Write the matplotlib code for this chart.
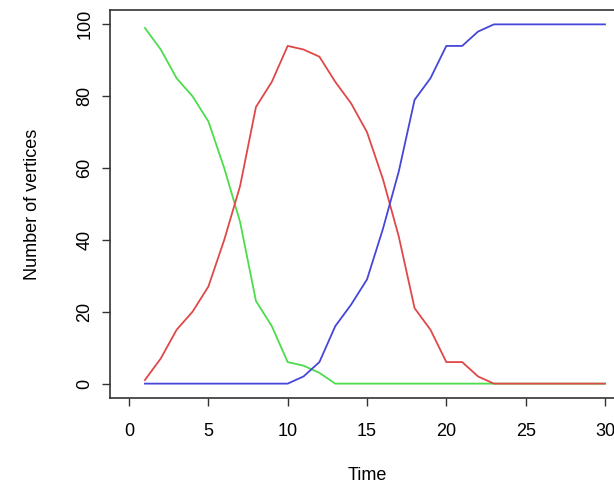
import matplotlib
matplotlib.use("Agg")
import matplotlib.pyplot as plt

# Epidemic simulation on a 100-vertex graph: susceptible / infected / recovered counts
time = list(range(1, 31))
susceptible = [99, 93, 85, 80, 73, 60, 45, 23, 16, 6, 5, 3, 0, 0, 0,
               0, 0, 0, 0, 0, 0, 0, 0, 0, 0, 0, 0, 0, 0, 0]
infected = [1, 7, 15, 20, 27, 40, 55, 77, 84, 94, 93, 91, 84, 78, 70,
            57, 41, 21, 15, 6, 6, 2, 0, 0, 0, 0, 0, 0, 0, 0]
recovered = [0, 0, 0, 0, 0, 0, 0, 0, 0, 0, 2, 6, 16, 22, 29,
             43, 59, 79, 85, 94, 94, 98, 100, 100, 100, 100, 100, 100, 100, 100]

x_ticks = [0, 5, 10, 15, 20, 25, 30]
y_ticks = [0, 20, 40, 60, 80, 100]

plt.rcParams["font.family"] = ["Liberation Sans", "DejaVu Sans"]

fig = plt.figure(figsize=(6.14, 4.86), dpi=100)
W, H = 614, 486
left, right, top, bottom = 110, 624, 10, 398
ax = fig.add_axes([left / W, 1 - bottom / H, (right - left) / W, (bottom - top) / H])

ax.plot(time, susceptible, color="#4cdc4c", lw=1.3)
ax.plot(time, infected, color="#e04848", lw=1.3)
ax.plot(time, recovered, color="#4646d8", lw=1.3)

ax.set_xlim(-1.2, 31.2)
ax.set_ylim(-4, 104)
ax.set_xticks(x_ticks)
ax.set_yticks(y_ticks)
ax.set_yticklabels([str(v) for v in y_ticks], rotation=90, va="center")

for s in ax.spines.values():
    s.set_color("#333333")
    s.set_linewidth(1.2)
ax.tick_params(direction="out", length=6, width=1, color="#333333", labelsize=13)
ax.tick_params(axis="x", pad=12)
ax.tick_params(axis="y", pad=6)

ax.set_xlabel("Time", fontsize=13, va="center")
ax.set_ylabel("Number of vertices", fontsize=13, va="center")
ax.xaxis.set_label_coords(0.5, -(475 - bottom) / (bottom - top))
ax.yaxis.set_label_coords(-(left - 33) / (right - left), 0.5)

fig.savefig("out.png", dpi=100)
